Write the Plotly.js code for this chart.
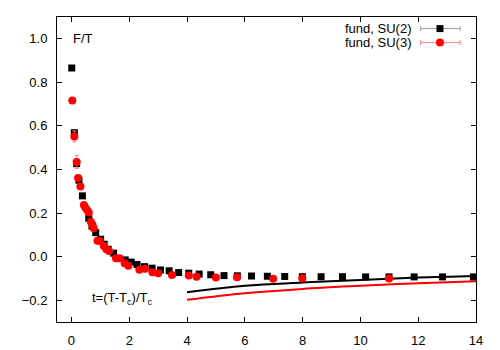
<!DOCTYPE html>
<html>
<head>
<meta charset="utf-8">
<script src="https://cdn.plot.ly/plotly-3.0.1.min.js"></script>
<style>
  body { margin: 0; background: #fff; }
  #chart { width: 500px; height: 350px; }
</style>
</head>
<body>
<div id="chart"></div>
<script>
// SU(2), fundamental: t = (T - Tc)/Tc  vs  F/T
var su2_t = [0.01, 0.1, 0.18, 0.26, 0.38, 0.6, 0.71, 0.84, 1.01, 1.13, 1.27, 1.46, 1.86, 2.07, 2.27, 2.53, 2.79, 3.08,
  3.38, 3.71, 4.06, 4.42, 4.82, 5.28, 5.74, 6.23, 6.78, 7.38, 7.99, 8.64, 9.38, 10.18, 10.99, 11.86, 12.84, 13.91];
var su2_f = [0.866, 0.569, 0.427, 0.351, 0.279, 0.176, 0.140, 0.110, 0.080, 0.057, 0.034, 0.016, -0.015, -0.025, -0.036, -0.046, -0.053, -0.061,
  -0.065, -0.073, -0.076, -0.080, -0.083, -0.087, -0.088, -0.089, -0.090, -0.091, -0.092, -0.092, -0.092, -0.093, -0.093, -0.093, -0.093, -0.093];
var su2_err = [0.004, 0.008, 0.015, 0.006, 0.004, 0.003, 0.003, 0.003, 0.002, 0.002, 0.002, 0.002, 0.002, 0.002, 0.002, 0.002, 0.002, 0.002,
  0.002, 0.002, 0.002, 0.002, 0.002, 0.002, 0.002, 0.002, 0.002, 0.002, 0.002, 0.002, 0.002, 0.002, 0.002, 0.002, 0.002, 0.002];

// SU(3), fundamental
var su3_t = [0.03, 0.1, 0.18, 0.23, 0.31, 0.43, 0.48, 0.54, 0.6, 0.67, 0.73, 0.77, 0.9, 0.98, 1.12, 1.21, 1.3, 1.54, 1.67,
  1.84, 1.97, 2.35, 2.54, 2.8, 3.0, 3.48, 4.06, 4.33, 5.0, 5.73, 6.98, 7.99, 10.99];
var su3_f = [0.717, 0.552, 0.435, 0.361, 0.322, 0.237, 0.226, 0.214, 0.203, 0.160, 0.145, 0.130, 0.073, 0.072, 0.049, 0.034, 0.026, -0.007, -0.007,
  -0.030, -0.042, -0.060, -0.055, -0.072, -0.076, -0.084, -0.087, -0.092, -0.096, -0.095, -0.101, -0.099, -0.100];
var su3_err = [0.006, 0.025, 0.03, 0.01, 0.008, 0.006, 0.006, 0.005, 0.005, 0.005, 0.004, 0.004, 0.004, 0.004, 0.003, 0.003, 0.003, 0.003, 0.003,
  0.003, 0.003, 0.003, 0.003, 0.003, 0.003, 0.003, 0.003, 0.003, 0.003, 0.003, 0.003, 0.003, 0.003];

// large-t curves
var curve_t = [4, 6, 8, 10, 12, 14];
var curve_su2 = [-0.163, -0.134, -0.119, -0.107, -0.096, -0.089];
var curve_su3 = [-0.198, -0.168, -0.148, -0.134, -0.122, -0.113];

var legend_names = ['fund, SU(2)', 'fund, SU(3)'];

var font = { family: 'Liberation Sans, Arial, sans-serif', size: 13, color: '#000' };

var traces = [
  {
    x: curve_t, y: curve_su2, mode: 'lines', type: 'scatter',
    line: { color: '#000', width: 2, shape: 'spline' }, hoverinfo: 'skip'
  },
  {
    x: curve_t, y: curve_su3, mode: 'lines', type: 'scatter',
    line: { color: '#ff0000', width: 2, shape: 'spline' }, hoverinfo: 'skip'
  },
  {
    x: su2_t, y: su2_f, mode: 'markers', type: 'scatter', name: legend_names[0],
    marker: { symbol: 'square', size: 7, color: '#000' },
    error_y: { type: 'data', array: su2_err, color: '#999', thickness: 1, width: 2 }
  },
  {
    x: su3_t, y: su3_f, mode: 'markers', type: 'scatter', name: legend_names[1],
    marker: { symbol: 'circle', size: 8, color: '#ff0000' },
    error_y: { type: 'data', array: su3_err, color: '#ff8080', thickness: 1, width: 2 }
  }
];

// gnuplot-like key: text on the left, errorbar sample on the right
var keyRows = [
  { y: 0.962, line: '#999', fill: '#000', type: 'rect' },
  { y: 0.916, line: '#ff8080', fill: '#ff0000', type: 'circle' }
];
var shapes = [];
var annotations = [];
keyRows.forEach(function (row, i) {
  shapes.push({ type: 'line', xref: 'paper', yref: 'paper', x0: 0.868, x1: 0.962, y0: row.y, y1: row.y, line: { color: row.line, width: 1 } });
  [0.868, 0.962].forEach(function (xe) {
    shapes.push({ type: 'line', xref: 'paper', yref: 'paper', ysizemode: 'pixel', yanchor: row.y, x0: xe, x1: xe, y0: -2.5, y1: 2.5, line: { color: row.line, width: 1 } });
  });
  var r = row.type === 'rect' ? 3.5 : 4;
  shapes.push({ type: row.type, xref: 'paper', yref: 'paper', xsizemode: 'pixel', ysizemode: 'pixel', xanchor: 0.914, yanchor: row.y,
    x0: -r, x1: r, y0: -r, y1: r, fillcolor: row.fill, line: { width: 0 } });
  annotations.push({ text: legend_names[i], xref: 'paper', yref: 'paper', x: 0.849, y: row.y, xanchor: 'right', yanchor: 'middle', showarrow: false, font: font });
});

annotations.push({ text: 'F/T', x: 0, y: 1.0, xanchor: 'left', yanchor: 'middle', showarrow: false, font: font });
annotations.push({ text: 't=(T-T<sub>c</sub>)/T<sub>c</sub>', x: 0.63, y: -0.19, xanchor: 'left', yanchor: 'middle', showarrow: false, font: font });

var axisStyle = {
  showgrid: false, zeroline: false, showline: true, linecolor: '#000', linewidth: 1,
  mirror: 'ticks', ticks: 'inside', ticklen: 5, tickcolor: '#000', tickfont: font
};

var layout = {
  width: 500, height: 350,
  margin: { l: 57, r: 24, t: 17, b: 28 },
  paper_bgcolor: '#fff', plot_bgcolor: '#fff',
  font: font,
  showlegend: false,
  xaxis: Object.assign({}, axisStyle, { range: [-0.5, 14], dtick: 2, tick0: 0, ticklabelstandoff: 6 }),
  yaxis: Object.assign({}, axisStyle, { range: [-0.3, 1.1], dtick: 0.2, tick0: 0, tickformat: '.1f', ticklabelstandoff: 6 }),
  shapes: shapes,
  annotations: annotations
};

Plotly.newPlot('chart', traces, layout, { displayModeBar: false, staticPlot: true });
</script>
</body>
</html>
